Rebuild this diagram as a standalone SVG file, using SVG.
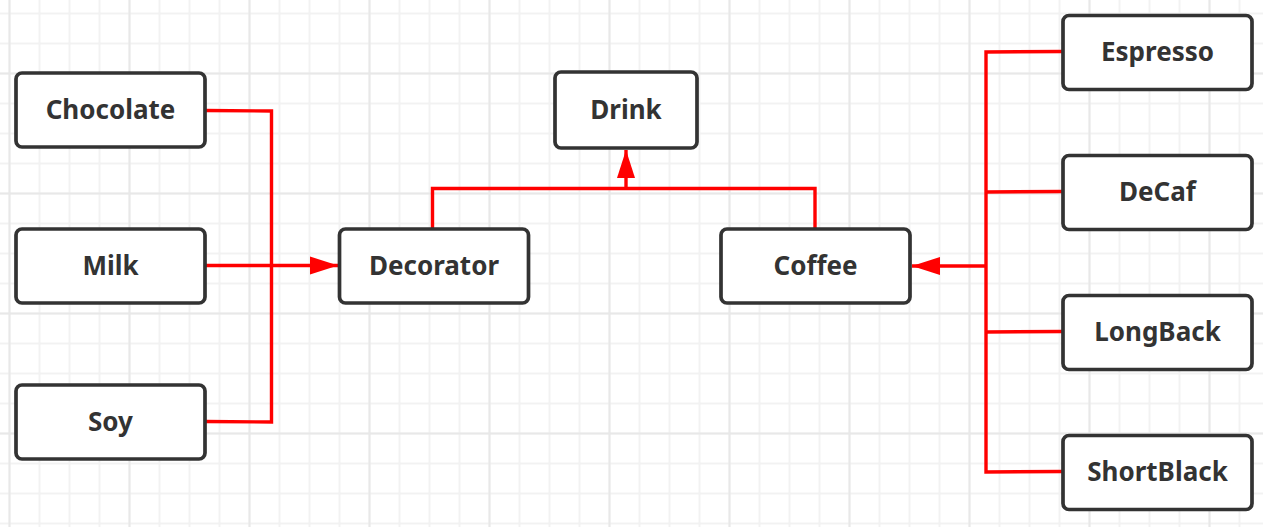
<svg xmlns="http://www.w3.org/2000/svg" width="1263" height="527" viewBox="0 0 1263 527">
<defs>
<style>
.box{fill:#fff;stroke:#333;stroke-width:3.7}
.lbl{font-family:"Noto Sans","Open Sans","Liberation Sans",sans-serif;font-weight:bold;font-size:26px;fill:#333;text-anchor:middle}
.con{fill:none;stroke:#ff0000;stroke-width:3.4;stroke-linejoin:miter}
</style>
<pattern id="g1" x="8.5" y="12.5" width="30" height="30" patternUnits="userSpaceOnUse">
<rect x="0" y="0" width="2" height="30" fill="#f2f2f2"/>
<rect x="0" y="0" width="30" height="2" fill="#f2f2f2"/>
</pattern>
<pattern id="g2" x="8.5" y="72.5" width="120" height="120" patternUnits="userSpaceOnUse">
<rect x="0" y="0" width="2" height="120" fill="#e8e8e8"/>
<rect x="0" y="0" width="120" height="2" fill="#e8e8e8"/>
</pattern>
<marker id="arr" markerUnits="userSpaceOnUse" markerWidth="30" markerHeight="22" refX="28" refY="10" orient="auto" viewBox="0 0 30 20">
<path d="M0,1 L28,10 L0,19 Z" fill="#ff0000"/>
</marker>
</defs>
<rect width="1263" height="527" fill="#fff"/>
<rect width="1263" height="527" fill="url(#g1)"/>
<rect width="1263" height="527" fill="url(#g2)"/>

<g id="connectors">
<path class="con" d="M205,110.5 L271.5,111 L271.5,422 L205,421.5"/>
<path class="con" d="M205,265.5 L338,265.5" marker-end="url(#arr)"/>
<path class="con" d="M432.5,229 L432.5,188.5 L815,188.5 L815,229"/>
<path class="con" d="M626,188.5 L626,150" marker-end="url(#arr)"/>
<path class="con" d="M1062,51.5 L986,52 L986,472 L1062,471.5"/>
<path class="con" d="M986,192 L1062,191.5"/>
<path class="con" d="M986,332 L1062,331.5"/>
<path class="con" d="M986,266 L912,266" marker-end="url(#arr)"/>
</g>

<g id="chocolate"><rect class="box" x="16" y="73" width="189" height="74" rx="6"/><text class="lbl" x="110.5" y="119">Chocolate</text></g>
<g id="milk"><rect class="box" x="16" y="229" width="189" height="74" rx="6"/><text class="lbl" x="110.5" y="275">Milk</text></g>
<g id="soy"><rect class="box" x="16" y="385" width="189" height="74" rx="6"/><text class="lbl" x="110.5" y="431">Soy</text></g>
<g id="decorator"><rect class="box" x="339.5" y="229" width="189" height="74" rx="6"/><text class="lbl" x="434" y="275">Decorator</text></g>
<g id="drink"><rect class="box" x="555" y="72" width="142" height="76" rx="6"/><text class="lbl" x="626" y="119">Drink</text></g>
<g id="coffee"><rect class="box" x="721" y="229" width="189" height="74" rx="6"/><text class="lbl" x="815.5" y="275">Coffee</text></g>
<g id="espresso"><rect class="box" x="1063" y="15.5" width="189" height="74" rx="6"/><text class="lbl" x="1157.5" y="61">Espresso</text></g>
<g id="decaf"><rect class="box" x="1063" y="155.5" width="189" height="74" rx="6"/><text class="lbl" x="1157.5" y="201">DeCaf</text></g>
<g id="longback"><rect class="box" x="1063" y="295.5" width="189" height="74" rx="6"/><text class="lbl" x="1157.5" y="341">LongBack</text></g>
<g id="shortblack"><rect class="box" x="1063" y="435.5" width="189" height="74" rx="6"/><text class="lbl" x="1157.5" y="481">ShortBlack</text></g>
</svg>
